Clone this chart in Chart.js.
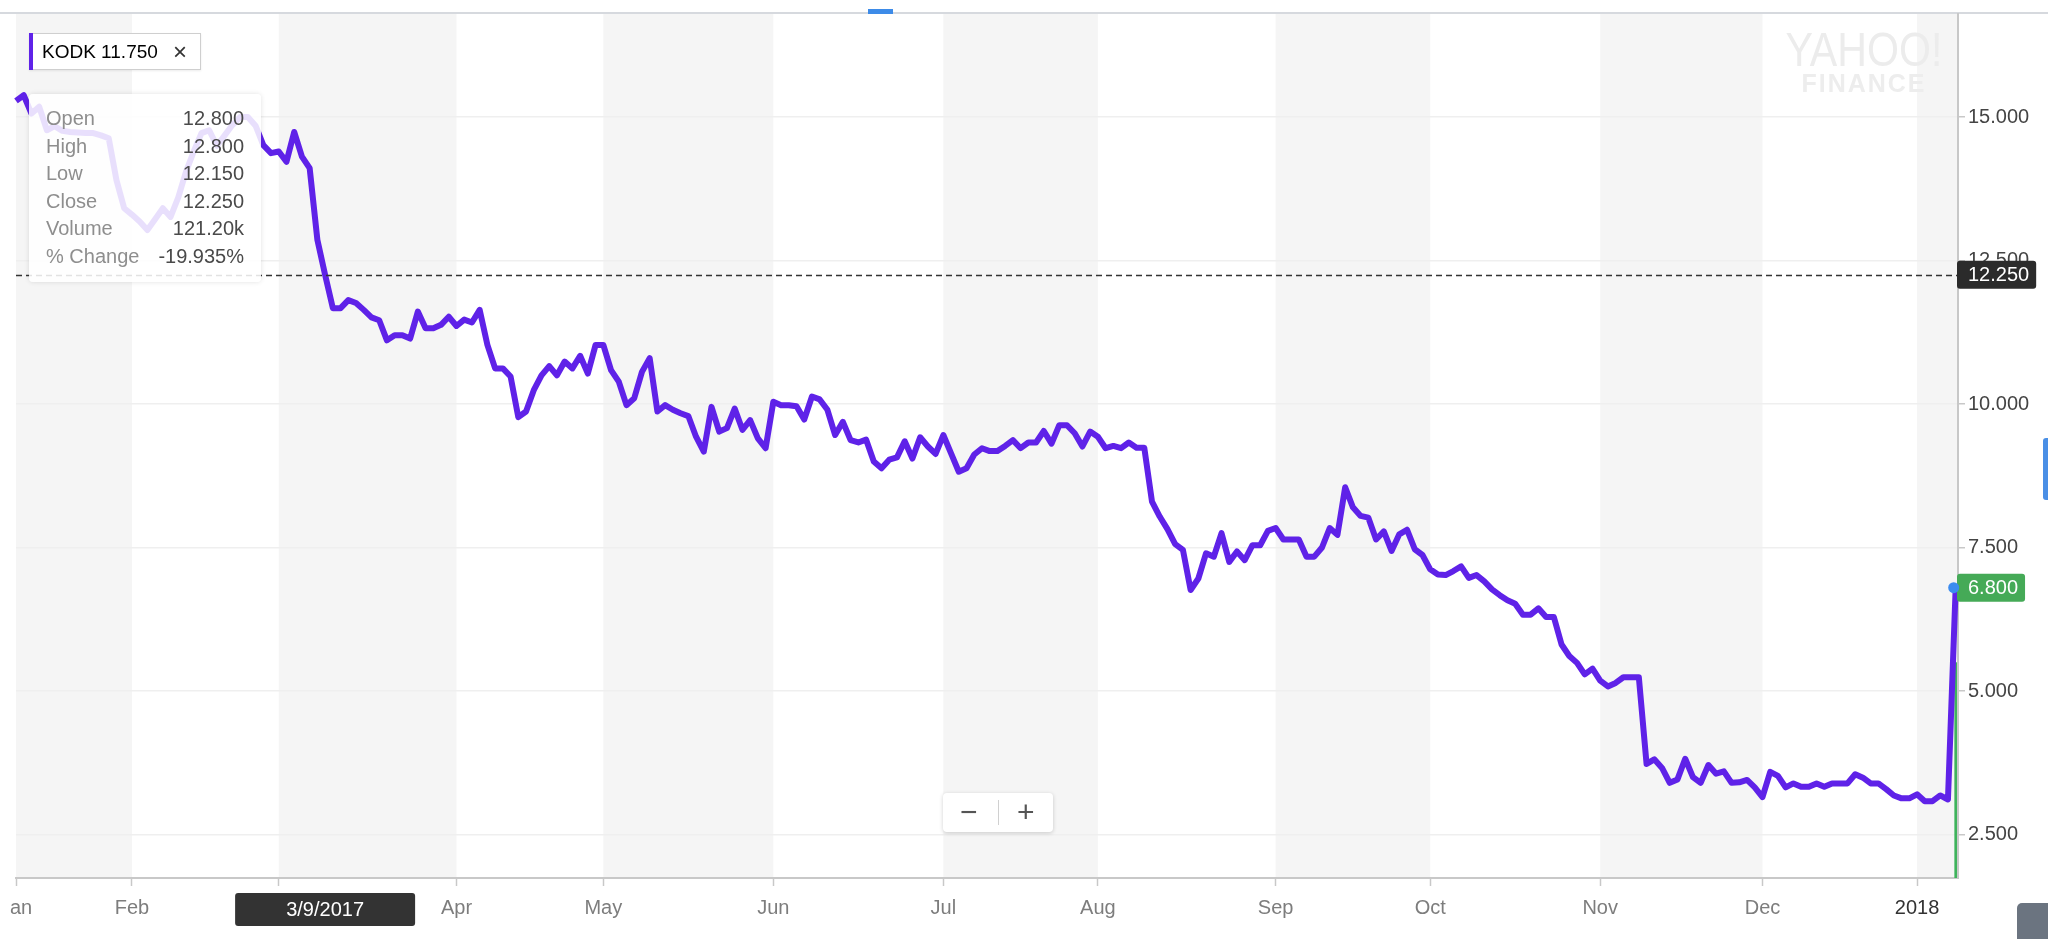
<!DOCTYPE html>
<html>
<head>
<meta charset="utf-8">
<title>KODK 1Y</title>
<script src="https://cdn.jsdelivr.net/npm/chart.js@4.4.1/dist/chart.umd.min.js"></script>
<style>
    html, body { margin: 0; padding: 0; background: #fff; overflow: hidden; }
    #wrap { position: relative; width: 2048px; height: 939px; font-family: "Liberation Sans", Arial, sans-serif; }
    #chart { position: absolute; left: 0; top: 0; }

    /* little bits of the page around the chart */
    #tabMark { position: absolute; left: 868px; top: 9px; width: 25px; height: 5px; background: #3d8be8; }
    #sideTab { position: absolute; left: 2043px; top: 438px; width: 5px; height: 62px; background: #4a8fe6; border-radius: 3px 0 0 3px; }
    #cornerBtn { position: absolute; left: 2017px; top: 903px; width: 31px; height: 36px; background: #6b7480; border-radius: 5px 0 0 0; }
    #leftCut { position: absolute; left: 0; top: 880px; width: 10px; height: 59px; background: #fff; }

    #legend { position: absolute; left: 29px; top: 33px; width: 172px; height: 37px; box-sizing: border-box;
              background: #fff; border: 1px solid #cfcfcf; box-shadow: 0 1px 2px rgba(0,0,0,0.08); }
    #legend .bar { position: absolute; left: -1px; top: -1px; width: 4px; height: 37px; background: #5f22e8; }
    #legend .txt { position: absolute; left: 12px; top: 7px; font-size: 19px; color: #000; }
    #legend .x { position: absolute; left: 143px; top: 4px; font-size: 24px; color: #333; }

    #tip { position: absolute; left: 29px; top: 94px; width: 232px; height: 188px; box-sizing: border-box;
           padding: 11px 17px 0 17px; background: rgba(255,255,255,0.86); border-radius: 4px;
           box-shadow: 0 0 5px rgba(0,0,0,0.12); font-size: 20px; line-height: 27.6px; }
    #tip .row { display: flex; justify-content: space-between; }
    #tip .lab { color: #8e8e8e; }
    #tip .val { color: #4a4a4a; }

    #zoomCtl { position: absolute; left: 943px; top: 793px; width: 110px; height: 39px; background: #fff;
               border-radius: 4px; box-shadow: 0 1px 4px rgba(0,0,0,0.18); color: #555; }
    #zoomCtl span { position: absolute; top: 1px; font-size: 30px; line-height: 36px; }
    #zoomCtl .div { position: absolute; left: 55px; top: 7px; width: 1px; height: 25px; background: #d0d0d0; }

    #mark { position: absolute; left: 1744px; top: 27px; width: 240px; text-align: center; }
    #mark .y { font-size: 49px; line-height: 44px; color: #ececec; transform: scaleX(0.84); }
    #mark .f { font-weight: bold; font-size: 25px; line-height: 24px; letter-spacing: 2px; color: #ededed; }
</style>
</head>
<body>
<div id="wrap">
    <canvas id="chart" width="2048" height="939"></canvas>
    <div id="tabMark"></div>
    <div id="sideTab"></div>
    <div id="cornerBtn"></div>
    <div id="leftCut"></div>
    <div id="mark"><div class="y">YAHOO!</div><div class="f">FINANCE</div></div>
    <div id="legend"><div class="bar"></div><span class="txt"></span><span class="x">×</span></div>
    <div id="tip"></div>
    <div id="zoomCtl"><span style="left:17px">−</span><div class="div"></div><span style="left:74px">+</span></div>
</div>

<script>
// daily closes, one per trading day, 10 Jan 2017 .. 9 Jan 2018
const closes = [
    15.28, 15.38, 15.06, 15.18, 14.77, 14.84, 14.76, 14.74, 14.73, 14.72,
    14.72, 14.68, 14.63, 13.90, 13.41, 13.30, 13.18, 13.03, 13.22, 13.41,
    13.26, 13.60, 14.05, 14.40, 14.72, 14.77, 14.50, 14.68, 14.86, 15.00,
    15.00, 14.85, 14.51, 14.37, 14.40, 14.22, 14.74, 14.31, 14.11, 12.86,
    12.25, 11.67, 11.67, 11.81, 11.76, 11.64, 11.51, 11.46, 11.11, 11.20,
    11.20, 11.14, 11.61, 11.32, 11.32, 11.38, 11.52, 11.36, 11.47, 11.42,
    11.64, 11.03, 10.62, 10.62, 10.48, 9.77, 9.87, 10.24, 10.50, 10.66,
    10.50, 10.74, 10.62, 10.84, 10.53, 11.03, 11.03, 10.59, 10.39, 9.98,
    10.10, 10.56, 10.80, 9.87, 9.98, 9.90, 9.84, 9.79, 9.43, 9.17,
    9.95, 9.52, 9.58, 9.92, 9.55, 9.72, 9.40, 9.23, 10.04, 9.98,
    9.98, 9.96, 9.73, 10.13, 10.08, 9.90, 9.46, 9.69, 9.37, 9.33,
    9.38, 9.00, 8.88, 9.03, 9.07, 9.35, 9.05, 9.42, 9.26, 9.13,
    9.46, 9.14, 8.82, 8.88, 9.12, 9.23, 9.18, 9.18, 9.27, 9.37,
    9.23, 9.33, 9.33, 9.53, 9.31, 9.63, 9.63, 9.49, 9.26, 9.52,
    9.43, 9.23, 9.27, 9.23, 9.33, 9.24, 9.24, 8.30, 8.04, 7.82,
    7.56, 7.46, 6.76, 6.96, 7.40, 7.34, 7.75, 7.25, 7.43, 7.28,
    7.54, 7.54, 7.79, 7.84, 7.64, 7.64, 7.64, 7.34, 7.34, 7.50,
    7.84, 7.72, 8.55, 8.20, 8.05, 8.02, 7.64, 7.78, 7.44, 7.73,
    7.81, 7.47, 7.37, 7.12, 7.03, 7.02, 7.09, 7.17, 6.97, 7.02,
    6.91, 6.77, 6.67, 6.58, 6.52, 6.33, 6.33, 6.44, 6.29, 6.29,
    5.81, 5.61, 5.49, 5.29, 5.39, 5.18, 5.08, 5.14, 5.24, 5.24,
    5.24, 3.73, 3.81, 3.66, 3.40, 3.46, 3.82, 3.50, 3.40, 3.71,
    3.56, 3.60, 3.40, 3.41, 3.45, 3.32, 3.15, 3.59, 3.52, 3.32,
    3.39, 3.33, 3.33, 3.39, 3.33, 3.39, 3.39, 3.39, 3.55, 3.49,
    3.39, 3.39, 3.29, 3.18, 3.13, 3.13, 3.20, 3.08, 3.08, 3.18,
    3.11, 6.80
];

// only the last day's volume bar is visible above the axis
const volumeIndex = [251];
const volumeValues = [8.6];

// month ticks: trading-day index where each month starts
const monthStarts = [0, 15, 34, 57, 76, 98, 120, 140, 163, 183, 205, 226, 246];
const monthLabels = ["Jan", "Feb", "Mar", "Apr", "May", "Jun", "Jul", "Aug", "Sep", "Oct", "Nov", "Dec", "2018"];

const yTicks = [2.5, 5, 7.5, 10, 12.5, 15];

// hovered day (crosshair) and legend text
const symbol = "KODK";
const legendValue = "11.750";
const hoverIndex = 40;
const hoverDate = "3/9/2017";
const tipLabels = ["Open", "High", "Low", "Close", "Volume", "% Change"];
const tipValues = ["12.800", "12.800", "12.150", "12.250", "121.20k", "-19.935%"];

const lineColor = "#5f22e8";


document.querySelector("#legend .txt").textContent = symbol + " " + legendValue;
const tip = document.getElementById("tip");
tipLabels.forEach((lab, i) => {
    const row = document.createElement("div");
    row.className = "row";
    row.innerHTML = '<span class="lab"></span><span class="val"></span>';
    row.children[0].textContent = lab;
    row.children[1].textContent = tipValues[i];
    tip.appendChild(row);
});


function roundRect(ctx, x, y, w, h, r) {
    ctx.beginPath();
    ctx.moveTo(x + r, y);
    ctx.arcTo(x + w, y, x + w, y + h, r);
    ctx.arcTo(x + w, y + h, x, y + h, r);
    ctx.arcTo(x, y + h, x, y, r);
    ctx.arcTo(x, y, x + w, y, r);
    ctx.closePath();
}

// month bands behind, crosshair + price tags on top
const yahooLook = {
    id: "yahooLook",
    beforeDraw(chart) {
        const { ctx, chartArea: a, scales: { x } } = chart;
        ctx.save();
        ctx.fillStyle = "#fff";
        ctx.fillRect(0, 0, chart.width, chart.height);
        for (let m = 0; m < monthStarts.length; m += 2) {
            const x0 = x.getPixelForValue(monthStarts[m]);
            const x1 = m + 1 < monthStarts.length ? x.getPixelForValue(monthStarts[m + 1]) : a.right;
            ctx.fillStyle = "#f5f5f5";
            ctx.fillRect(x0, a.top, x1 - x0, a.bottom - a.top);
        }
        ctx.fillStyle = "#d6d9de";
        ctx.fillRect(0, a.top - 2, chart.width, 2);
        ctx.restore();
    },
    afterDraw(chart) {
        const { ctx, chartArea: a, scales: { x, y } } = chart;
        const hoverClose = closes[hoverIndex];
        const lastClose = closes[closes.length - 1];
        ctx.save();

        // dashed line at hovered close
        const hy = Math.round(y.getPixelForValue(hoverClose)) + 0.5;
        ctx.setLineDash([6, 4]);
        ctx.strokeStyle = "#333";
        ctx.lineWidth = 1.3;
        ctx.beginPath();
        ctx.moveTo(a.left, hy);
        ctx.lineTo(a.right, hy);
        ctx.stroke();
        ctx.setLineDash([]);

        ctx.font = "20px 'Liberation Sans', Arial, sans-serif";
        ctx.textBaseline = "middle";
        function tag(val, bg) {
            const py = y.getPixelForValue(val);
            const txt = val.toFixed(3);
            const w = ctx.measureText(txt).width + 18;
            ctx.fillStyle = bg;
            roundRect(ctx, a.right - 1, py - 14, w, 28, 3);
            ctx.fill();
            ctx.fillStyle = "#fff";
            ctx.textAlign = "left";
            ctx.fillText(txt, a.right + 10, py + 1);
        }
        tag(hoverClose, "#2b2b2b");
        tag(lastClose, "#45aa57");

        // last point dot
        const pts = chart.getDatasetMeta(0).data;
        const lp = pts[pts.length - 1];
        ctx.fillStyle = "#3b8cf0";
        ctx.beginPath();
        ctx.arc(lp.x - 2, lp.y, 5.5, 0, Math.PI * 2);
        ctx.fill();

        // date tag under the axis
        const dx = x.getPixelForValue(hoverIndex);
        ctx.fillStyle = "#333";
        roundRect(ctx, dx - 90, a.bottom + 15, 180, 33, 3);
        ctx.fill();
        ctx.fillStyle = "#fff";
        ctx.textAlign = "center";
        ctx.fillText(hoverDate, dx, a.bottom + 32);
        ctx.restore();
    }
};


const ctx = document.getElementById("chart").getContext("2d");
const kodkChart = new Chart(ctx, {
    type: "line",
    data: {
        datasets: [{
            data: closes.map((v, i) => ({ x: i, y: v })),
            borderColor: lineColor,
            borderWidth: 6,
            borderJoinStyle: "round",
            pointRadius: 0,
            tension: 0,
            fill: false,
            order: 0,
            clip: false
        }, {
            type: "bar",
            data: volumeIndex.map((d, i) => ({ x: d, y: volumeValues[i] })),
            yAxisID: "vol",
            backgroundColor: "#3fb35c",
            barThickness: 2,
            order: 1
        }]
    },
    options: {
        responsive: false,
        animation: false,
        devicePixelRatio: 1,
        layout: { padding: { left: 16, top: 14, right: 0, bottom: 0 }, autoPadding: false },
        plugins: { legend: { display: false }, tooltip: { enabled: false } },
        events: [],
        scales: {
            x: {
                type: "linear",
                offset: false,
                min: 0,
                max: 251.3,
                afterBuildTicks: s => { s.ticks = monthStarts.map(v => ({ value: v })); },
                afterFit: s => { s.height = 61; s.paddingLeft = 0; s.paddingRight = 0; },
                ticks: {
                    autoSkip: false,
                    maxRotation: 0,
                    padding: 10,
                    font: { family: "'Liberation Sans', Arial, sans-serif", size: 20 },
                    color: c => (c.tick && c.tick.value === 246 ? "#333" : "#7d7d7d"),
                    callback: v => monthLabels[monthStarts.indexOf(v)]
                },
                grid: { offset: false, drawOnChartArea: false, tickLength: 8, tickColor: "#c8c8c8", tickWidth: 1.5 },
                border: { color: "#c8c8c8", width: 2 }
            },
            y: {
                position: "right",
                min: 1.742,
                max: 16.795,
                afterBuildTicks: s => { s.ticks = yTicks.map(v => ({ value: v })); },
                afterFit: s => { s.width = 90; s.paddingTop = 0; s.paddingBottom = 0; },
                ticks: {
                    padding: 3,
                    font: { family: "'Liberation Sans', Arial, sans-serif", size: 20 },
                    color: "#444",
                    callback: v => v.toFixed(3)
                },
                grid: { color: "#efefef", lineWidth: 1.5, tickLength: 7, tickColor: "#c8c8c8" },
                border: { color: "#c8c8c8", width: 2 }
            },
            vol: { display: false, min: 0, max: 34.5 }
        }
    },
    plugins: [yahooLook]
});
</script>
</body>
</html>
